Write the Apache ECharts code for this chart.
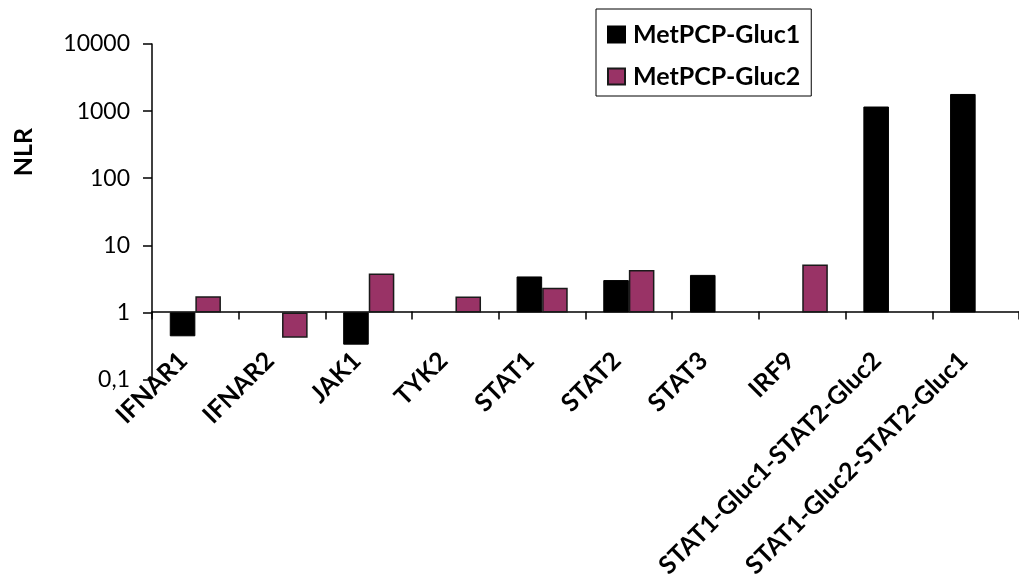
<!DOCTYPE html>
<html>
<head>
<meta charset="utf-8">
<script src="https://cdn.jsdelivr.net/npm/echarts@6/dist/echarts.min.js"></script>
<style>
  html, body { margin: 0; padding: 0; background: #fff; }
  #chart { width: 1019px; height: 581px; }
</style>
</head>
<body>
<div id="chart"></div>
<script>
const categories = ['IFNAR1', 'IFNAR2', 'JAK1', 'TYK2', 'STAT1', 'STAT2', 'STAT3', 'IRF9',
  'STAT1-Gluc1-STAT2-Gluc2', 'STAT1-Gluc2-STAT2-Gluc1'];
const gluc1Values = [0.44, '-', 0.33, '-', 3.43, 3.03, 3.62, '-', 1170, 1800];
const gluc2Values = [1.74, 0.42, 3.8, 1.72, 2.33, 4.29, '-', 5.15, '-', '-'];
const yTicks = [0.1, 1, 10, 100, 1000, 10000];

const fontFamily = 'Lato, "Liberation Sans", sans-serif';

const chart = echarts.init(document.getElementById('chart'));

const option = {
  animation: false,
  backgroundColor: '#fff',
  grid: {
    left: 152,
    top: 44,
    bottom: 197,
    right: -8
  },
  legend: {
    orient: 'vertical',
    left: 596,
    top: 9,
    padding: [13, 11, 7, 11],
    icon: 'rect',
    itemWidth: 17,
    itemHeight: 16,
    itemGap: 17,
    borderColor: '#000',
    borderWidth: 1,
    textStyle: {
      fontFamily: fontFamily,
      fontWeight: 'bold',
      fontSize: 25,
      color: '#000',
      padding: [0, 0, 0, 3]
    },
    data: ['MetPCP-Gluc1', 'MetPCP-Gluc2']
  },
  graphic: [{
    type: 'text',
    x: 24,
    y: 152,
    rotation: Math.PI / 2,
    style: {
      text: 'NLR',
      fontFamily: fontFamily,
      fontWeight: 'bold',
      fontSize: 25,
      fill: '#000',
      align: 'center',
      verticalAlign: 'middle'
    }
  }],
  xAxis: {
    type: 'category',
    data: categories,
    offset: -68,
    axisLine: { lineStyle: { color: '#000', width: 1.5 } },
    axisTick: { show: true, length: 8, lineStyle: { color: '#000', width: 1.5 } },
    axisLabel: {
      interval: 0,
      rotate: 45,
      margin: 33,
      padding: [0, 17, 0, 0],
      fontFamily: fontFamily,
      fontWeight: 'bold',
      fontSize: 25,
      color: '#000'
    }
  },
  yAxis: {
    type: 'log',
    logBase: 10,
    min: yTicks[0],
    max: yTicks[yTicks.length - 1],
    splitLine: { show: false },
    axisLine: { show: true, lineStyle: { color: '#000', width: 1.5 } },
    axisTick: { show: true, length: 9, lineStyle: { color: '#000', width: 1.5 } },
    axisLabel: {
      margin: 22,
      fontFamily: fontFamily,
      fontSize: 23,
      color: '#000',
      formatter: function (v) {
        return String(v).replace('.', ',');
      }
    }
  },
  series: [
    {
      name: 'MetPCP-Gluc1',
      type: 'bar',
      data: gluc1Values,
      barGap: '0%',
      barCategoryGap: '41%',
      itemStyle: { color: '#000000', borderColor: '#000', borderWidth: 1 }
    },
    {
      name: 'MetPCP-Gluc2',
      type: 'bar',
      data: gluc2Values,
      barGap: '0%',
      barCategoryGap: '41%',
      itemStyle: { color: '#993366', borderColor: '#1a1a1a', borderWidth: 1.5 }
    }
  ]
};

chart.setOption(option);
</script>
</body>
</html>
